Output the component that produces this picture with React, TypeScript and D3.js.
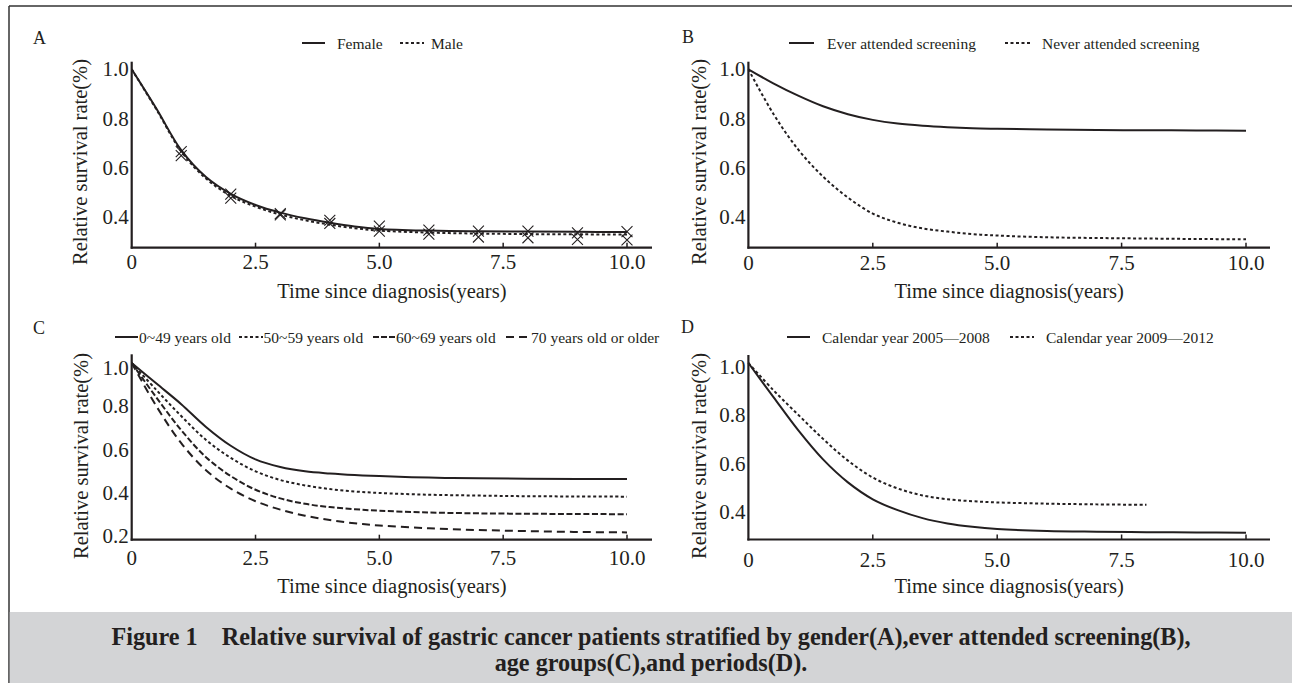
import React from 'react';
import * as d3 from 'd3';

// follow-up times (years) at which the fitted curves were read
const years = [0, 0.5, 1, 1.5, 2, 2.5, 3, 3.5, 4, 4.5, 5, 6, 7, 8, 9, 10];
const yearsTo8 = [0, 0.5, 1, 1.5, 2, 2.5, 3, 3.5, 4, 4.5, 5, 6, 7, 8];
const obsYears = [1, 2, 3, 4, 5, 6, 7, 8, 9, 10];

// A: gender
const femaleFit = [1.0, 0.84, 0.672, 0.563, 0.495, 0.45, 0.419, 0.396, 0.378, 0.363, 0.353, 0.346, 0.343, 0.342, 0.341, 0.34];
const maleFit = [1.0, 0.837, 0.667, 0.557, 0.487, 0.443, 0.411, 0.388, 0.37, 0.356, 0.346, 0.338, 0.334, 0.332, 0.331, 0.33];
const femaleObs = [0.666, 0.494, 0.415, 0.388, 0.364, 0.348, 0.344, 0.344, 0.337, 0.342];
const maleObs = [0.65, 0.478, 0.41, 0.375, 0.344, 0.332, 0.32, 0.317, 0.31, 0.308];

// B: screening
const everScreened = [1.0, 0.943, 0.893, 0.85, 0.818, 0.795, 0.78, 0.771, 0.765, 0.761, 0.759, 0.756, 0.754, 0.753, 0.752, 0.751];
const neverScreened = [1.0, 0.82, 0.675, 0.565, 0.48, 0.415, 0.378, 0.355, 0.342, 0.332, 0.326, 0.319, 0.316, 0.314, 0.312, 0.311];

// C: age groups
const age0to49 = [1.0, 0.905, 0.81, 0.705, 0.618, 0.555, 0.52, 0.5, 0.49, 0.483, 0.478, 0.471, 0.468, 0.466, 0.465, 0.465];
const age50to59 = [1.0, 0.875, 0.755, 0.645, 0.562, 0.5, 0.46, 0.435, 0.418, 0.407, 0.4, 0.392, 0.388, 0.385, 0.384, 0.383];
const age60to69 = [1.0, 0.84, 0.69, 0.565, 0.478, 0.415, 0.375, 0.35, 0.335, 0.325, 0.318, 0.31, 0.306, 0.304, 0.303, 0.302];
const age70plus = [1.0, 0.8, 0.63, 0.505, 0.42, 0.362, 0.323, 0.295, 0.275, 0.26, 0.25, 0.237, 0.229, 0.224, 0.22, 0.218];

// D: calendar periods
const period0508 = [1.0, 0.86, 0.722, 0.601, 0.506, 0.436, 0.391, 0.358, 0.336, 0.322, 0.313, 0.305, 0.302, 0.3, 0.299, 0.298];
const period0912 = [1.0, 0.888, 0.786, 0.686, 0.596, 0.526, 0.481, 0.452, 0.436, 0.428, 0.423, 0.418, 0.415, 0.413];

const xTicks = [0, 2.5, 5, 7.5, 10];
const xTickLabels = ['0', '2.5', '5.0', '7.5', '10.0'];
const yTicksAB = [0.4, 0.6, 0.8, 1.0];
const yTicksC = [0.2, 0.4, 0.6, 0.8, 1.0];
const yTicksD = [0.4, 0.6, 0.8, 1.0];

const FONT = '"Liberation Serif", "Times New Roman", serif';
const INK = '#231f20';
const DOT = '3,2.5';
const DASH = '6,2.5';
const LONGDASH = '8,5';

const Panel = ({ cfg }) => {
  const x = d3.scaleLinear().domain([0, 10]).range(cfg.xRange);
  const y = d3.scaleLinear().domain(cfg.yDomain).range(cfg.yRange);
  const line = d3.line().x(d => x(d[0])).y(d => y(d[1])).curve(d3.curveCatmullRom.alpha(0.5));
  const x0 = x(0);
  const sym = d3.symbol(d3.symbolX, 80);
  return (
    <g>
      <text x={cfg.labelPos[0]} y={cfg.labelPos[1]} fontSize={18} fontFamily={FONT} fill={INK} dominantBaseline="central">{cfg.label}</text>

      {/* legend */}
      {cfg.legend.map((l, i) => (
        <g key={i}>
          <line x1={l.x1} x2={l.x2} y1={cfg.legendY} y2={cfg.legendY} stroke={INK} strokeWidth={2} strokeDasharray={l.dash || undefined} />
          <text x={l.tx} y={cfg.legendY} fontSize={15.5} fontFamily={FONT} fill={INK} dominantBaseline="central">{l.text}</text>
        </g>
      ))}

      {/* curves */}
      {cfg.series.map((s, i) => (
        <path key={i} d={line(s.x.map((t, j) => [t, s.y[j]]))} fill="none" stroke={INK} strokeWidth={2} strokeDasharray={s.dash || undefined} />
      ))}

      {/* observed points */}
      {(cfg.markers || []).map((m, i) =>
        m.x.map((t, j) => (
          <path key={`${i}-${j}`} d={sym()} transform={`translate(${x(t)},${y(m.y[j])})`} fill="none" stroke={INK} strokeWidth={1.1} />
        ))
      )}

      {/* axes */}
      <line x1={x0} x2={x0} y1={cfg.axisTop} y2={cfg.axisY + 1} stroke={INK} strokeWidth={2.2} />
      <line x1={x0 - 1} x2={cfg.xEnd} y1={cfg.axisY} y2={cfg.axisY} stroke={INK} strokeWidth={2.2} />
      {xTicks.map((t, i) => (
        <g key={t}>
          {i > 0 && <line x1={x(t)} x2={x(t)} y1={cfg.axisY} y2={cfg.axisY - 5} stroke={INK} strokeWidth={1.5} />}
          <text x={x(t)} y={cfg.axisY + cfg.xLabelDy} fontSize={21} fontFamily={FONT} fill={INK} textAnchor="middle" dominantBaseline="central">{xTickLabels[i]}</text>
        </g>
      ))}
      {cfg.yTicks.map(v => (
        <text key={v} x={x0 - 3} y={y(v) + (v === 1 ? cfg.topLabelDy : 0) + cfg.yLabelDy} fontSize={21} fontFamily={FONT} fill={INK} textAnchor="end" dominantBaseline="central">{v.toFixed(1)}</text>
      ))}
      <text x={(x0 + cfg.xEnd) / 2} y={cfg.axisY + cfg.xTitleDy} fontSize={20.5} fontFamily={FONT} fill={INK} textAnchor="middle" dominantBaseline="central">Time since diagnosis(years)</text>
      <text transform={`translate(${cfg.yTitlePos[0]},${cfg.yTitlePos[1]}) rotate(-90)`} fontSize={20.5} fontFamily={FONT} fill={INK} textAnchor="middle" dominantBaseline="central">Relative survival rate(%)</text>
    </g>
  );
};

const panels = [
  {
    label: 'A', labelPos: [33, 38], legendY: 43,
    xRange: [131.7, 627], xEnd: 652, yDomain: [0.4, 1.0], yRange: [217.3, 69.3],
    axisY: 247.7, axisTop: 61.7, yTicks: yTicksAB, topLabelDy: 0, yLabelDy: 0,
    xLabelDy: 14.5, xTitleDy: 43, yTitlePos: [80, 162],
    legend: [
      { x1: 302, x2: 325, tx: 337, text: 'Female', dash: null },
      { x1: 400, x2: 424, tx: 431, text: 'Male', dash: DOT },
    ],
    series: [
      { x: years, y: femaleFit, dash: null },
      { x: years, y: maleFit, dash: DOT },
    ],
    markers: [
      { x: obsYears, y: femaleObs },
      { x: obsYears, y: maleObs },
    ],
  },
  {
    label: 'B', labelPos: [682, 37], legendY: 43,
    xRange: [748.4, 1246], xEnd: 1270, yDomain: [0.4, 1.0], yRange: [217.3, 69.3],
    axisY: 247.7, axisTop: 61.7, yTicks: yTicksAB, topLabelDy: 0, yLabelDy: 0,
    xLabelDy: 15, xTitleDy: 43, yTitlePos: [699, 162],
    legend: [
      { x1: 789, x2: 814, tx: 827, text: 'Ever attended screening', dash: null },
      { x1: 1005, x2: 1030, tx: 1042, text: 'Never attended screening', dash: DOT },
    ],
    series: [
      { x: years, y: everScreened, dash: null },
      { x: years, y: neverScreened, dash: DOT },
    ],
  },
  {
    label: 'C', labelPos: [33, 328], legendY: 337,
    xRange: [131.7, 627], xEnd: 652, yDomain: [0.2, 1.0], yRange: [536.3, 363],
    axisY: 539.7, axisTop: 354.3, yTicks: yTicksC, topLabelDy: 5, yLabelDy: 0,
    xLabelDy: 18.5, xTitleDy: 46.5, yTitlePos: [81, 456],
    legend: [
      { x1: 115, x2: 138, tx: 139, text: '0~49 years old', dash: null },
      { x1: 239, x2: 263, tx: 263.5, text: '50~59 years old', dash: DOT },
      { x1: 373, x2: 395, tx: 396, text: '60~69 years old', dash: '6,2' },
      { x1: 506, x2: 527, tx: 531, text: '70 years old or older', dash: LONGDASH },
    ],
    series: [
      { x: years, y: age0to49, dash: null },
      { x: years, y: age50to59, dash: DOT },
      { x: years, y: age60to69, dash: DASH },
      { x: years, y: age70plus, dash: LONGDASH },
    ],
  },
  {
    label: 'D', labelPos: [681, 327], legendY: 337,
    xRange: [748.4, 1246], xEnd: 1270, yDomain: [0.4, 1.0], yRange: [508, 363],
    axisY: 539.5, axisTop: 355, yTicks: yTicksD, topLabelDy: 0, yLabelDy: 4,
    xLabelDy: 20, xTitleDy: 46.5, yTitlePos: [699, 456],
    legend: [
      { x1: 787, x2: 810, tx: 822, text: 'Calendar year 2005\u20142008', dash: null },
      { x1: 1010, x2: 1034, tx: 1046, text: 'Calendar year 2009\u20142012', dash: DOT },
    ],
    series: [
      { x: years, y: period0508, dash: null },
      { x: yearsTo8, y: period0912, dash: DOT },
    ],
  },
];

const App = () => {
  return (
    <svg width={1292} height={683} style={{ position: 'absolute', left: 0, top: 0, background: '#fff' }}>
      <rect x={0} y={0} width={1292} height={683} fill="#fff" />
      {/* frame */}
      <line x1={9} x2={1292} y1={6} y2={6} stroke="#333" strokeWidth={1.5} />
      <line x1={9} x2={9} y1={6} y2={683} stroke="#333" strokeWidth={1.5} />
      {/* caption band */}
      <rect x={9.75} y={612} width={1282.25} height={71} fill="#d3d4d6" />

      {panels.map(p => <Panel key={p.label} cfg={p} />)}

      <text x={651} y={636} fontSize={24.2} fontWeight="bold" fontFamily={FONT} fill={INK} textAnchor="middle" dominantBaseline="central" style={{ whiteSpace: 'pre' }}>
        {'Figure 1\u2003Relative survival of gastric cancer patients stratified by gender(A),ever attended screening(B),'}
      </text>
      <text x={651} y={662} fontSize={24.2} fontWeight="bold" fontFamily={FONT} fill={INK} textAnchor="middle" dominantBaseline="central">
        age groups(C),and periods(D).
      </text>
    </svg>
  );
};

export default App;
